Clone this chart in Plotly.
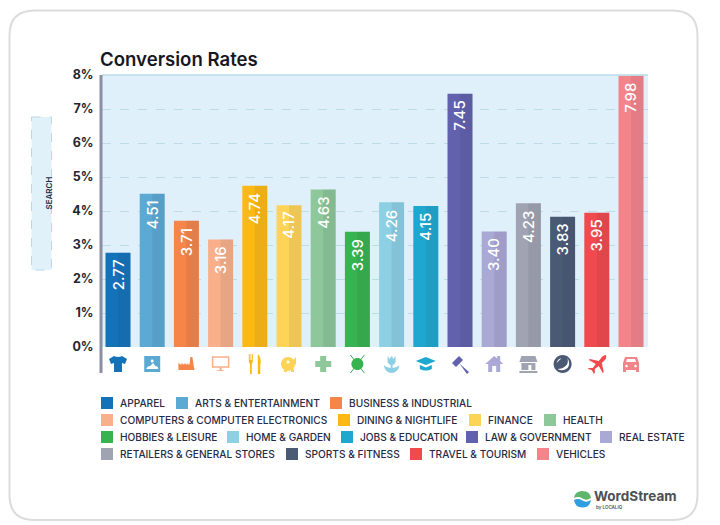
import plotly.graph_objects as go

W, H = 720, 525

# values
categories = ['APPAREL', 'ARTS & ENTERTAINMENT', 'BUSINESS & INDUSTRIAL',
              'COMPUTERS & COMPUTER ELECTRONICS', 'DINING & NIGHTLIFE', 'FINANCE',
              'HEALTH', 'HOBBIES & LEISURE', 'HOME & GARDEN', 'JOBS & EDUCATION',
              'LAW & GOVERNMENT', 'REAL ESTATE', 'RETAILERS & GENERAL STORES',
              'SPORTS & FITNESS', 'TRAVEL & TOURISM', 'VEHICLES']
rates = [2.77, 4.51, 3.71, 3.16, 4.74, 4.17, 4.63, 3.39,
         4.26, 4.15, 7.45, 3.40, 4.23, 3.83, 3.95, 7.98]
tick_vals = [0, 1, 2, 3, 4, 5, 6, 7, 8]
tick_text = ['0%', '1%', '2%', '3%', '4%', '5%', '6%', '7%', '8%']

colors = ['#1472b9', '#5caad4', '#f58549', '#f9b08a', '#fdb913', '#fed457', '#8dc79a', '#37b34f',
          '#8dd0e4', '#1fa8cf', '#6161ad', '#aaa8d4', '#a0a3b1', '#4a5a75', '#f04a4f', '#f3848a']

# legend rows: swatch left edge in px, row centre in px
legend_x = [101, 176, 330, 101, 338, 469, 544, 101, 227, 341, 466, 600, 101, 286, 410, 537]
legend_y = [403, 403, 403, 420, 420, 420, 420, 437, 437, 437, 437, 437, 454, 454, 454, 454]

NAVY = '#262a45'
FONT = 'Inter'


def px(x):
    return x / W


def py(y):
    return 1 - y / H


def circle(cx, cy, r):
    k = r * 0.5523
    return (f'M{cx - r} {cy} C{cx - r} {cy + k} {cx - k} {cy + r} {cx} {cy + r} '
            f'C{cx + k} {cy + r} {cx + r} {cy + k} {cx + r} {cy} '
            f'C{cx + r} {cy - k} {cx + k} {cy - r} {cx} {cy - r} '
            f'C{cx - k} {cy - r} {cx - r} {cy - k} {cx - r} {cy} Z')


# icon outlines, px around the icon centre, y up. 'W' pieces are white, 'O' are outlines
icons = [
    [('F', 'M-9 5 L-4 8 Q0 6 4 8 L9 5 L7 0 L4 1 L4 -8 L-4 -8 L-4 1 L-7 0 Z')],
    [('F', 'M-8 -8 H8 V8 H-8 Z'), ('W', 'M-6 -5 Q-5 -2 -2 -2 L1 1 L3 -2 Q6 -2 6 -5 Z'), ('W', circle(0, 3, 1.5))],
    [('F', 'M-8 -6 V1 L-5 -1 V1 L-2 -1 V1 L1 -1 V1 L3 -1 L4 7 H6 L8 -6 Z')],
    [('O', 'M-8 -3 V7 H8 V-3 Z'), ('F', 'M-1 -3 H1 V-6 H3 V-7 H-3 V-6 H-1 Z')],
    [('F', 'M-6 10 V3 Q-6 1 -4.8 0 V-10 H-3 V0 Q-2 1 -2 3 V10 H-2.8 V4 H-3.5 V10 H-4.3 V4 H-5 V10 Z'),
     ('F', 'M3 10 Q6 8 6 0 H5.5 V-10 H3 Z')],
    [('F', circle(-1, 0, 7)), ('F', 'M3 3 L7 7 L7 -1 Z M-5 -5 H-2 V-8 H-5 Z M2 -5 H5 V-8 H2 Z'), ('W', circle(-1, 2, 1.5))],
    [('F', 'M-3 8 H3 V3 H8 V-3 H3 V-8 H-3 V-3 H-8 V3 H-3 Z')],
    [('F', circle(0, 0, 6)), ('L', 'M-7 9 L7 -9 M7 9 L-7 -9')],
    [('F', 'M-4 8 L-2 5 L0 8 L2 5 L4 8 V2 Q3 -1 1 -1 V-4 Q5 -4 8 -1 Q6 -9 0 -9 Q-6 -9 -8 -1 Q-5 -4 -1 -4 V-1 Q-3 -1 -4 2 Z')],
    [('F', 'M-10 3 L0 7 L10 3 L0 -1 Z'), ('F', 'M-6 -1 V-5 Q0 -8 6 -5 V-1 L0 -3.5 Z')],
    [('F', 'M-8 1 L-1 8 L3 4 L-4 -3 Z'), ('F', 'M-1 1 L1 -1 L9 -8 L7 -10 Z')],
    [('F', 'M-9 0 L0 8 L3 5.5 V8 H6 V3 L9 0 H6 V-8 H2 V-2 H-2 V-8 H-6 V0 Z')],
    [('F', 'M-7 8 H7 L9 2 H-9 Z'), ('F', 'M-7 1 H7 V-6 H3 V-1 H0 V-6 H-7 Z'), ('F', 'M-9 -7 H9 V-9 H-9 Z')],
    [('F', circle(0, 0, 9)), ('W', 'M-5 -5 Q0 -8 5 -4 Q8 0 5 6 Q6 0 3 -2 Q0 -5 -5 -5 Z'), ('W', 'M-6 1 Q-5 5 -1 6 Q-4 3 -6 1 Z')],
    [('F', 'M9 9 Q7 9 5 7 L2 3 L-7 5 L-8 4 L-1 0 L-4 -4 L-8 -4 L-9 -5 L-5 -6 L-3 -10 L-2 -9 L-2 -5 L2 -2 L6 -9 L7 -8 L5 1 L9 5 Q10 8 9 9 Z')],
    [('F', 'M-8 -8 H-5 V-6 H5 V-8 H8 V1 L6 7 H-6 L-8 1 Z'), ('W', 'M-5 2 L-4 5 H4 L5 2 Z'), ('W', circle(-4.5, -2, 1.3)), ('W', circle(4.5, -2, 1.3))],
]

bar_pos = list(range(len(categories)))
half_shade = [0.365] * len(categories)

fig = go.Figure()
fig.add_trace(go.Bar(x=bar_pos, y=rates, width=0.731, marker=dict(color=colors, line=dict(width=0)),
                     hoverinfo='x+y', showlegend=False))
# darker right half of every bar
fig.add_trace(go.Bar(x=bar_pos, y=rates, width=half_shade, offset=0,
                     marker=dict(color='rgba(40,40,70,0.08)', line=dict(width=0)),
                     hoverinfo='skip', showlegend=False))

shapes = []
# card
x0, y0, x1, y1, r = px(9.5), py(10.5), px(697.5), py(520), 25
rx, ry = r / W, r / H
shapes.append(dict(type='path', xref='paper', yref='paper',
                   path=f'M{x0 + rx} {y0} L{x1 - rx} {y0} Q{x1} {y0} {x1} {y0 - ry} L{x1} {y1 + ry} '
                        f'Q{x1} {y1} {x1 - rx} {y1} L{x0 + rx} {y1} Q{x0} {y1} {x0} {y1 + ry} '
                        f'L{x0} {y0 - ry} Q{x0} {y0} {x0 + rx} {y0} Z',
                   line=dict(color='#dcdcdc', width=2), fillcolor='rgba(0,0,0,0)'))
# SEARCH box
shapes.append(dict(type='rect', xref='paper', yref='paper', x0=px(31.5), x1=px(51.5), y0=py(117), y1=py(270),
                   fillcolor='#e1f1fa', line=dict(color='#b7dce8', width=1, dash='dash'), layer='below'))
# top rule and thick left axis
shapes.append(dict(type='line', xref='paper', yref='paper', x0=px(102), x1=px(648), y0=py(75), y1=py(75),
                   line=dict(color='#b7dce8', width=1.5)))
shapes.append(dict(type='line', xref='paper', yref='paper', x0=px(101), x1=px(101), y0=py(75), y1=py(373),
                   line=dict(color='#8b8fa3', width=3)))

# icons under the bars
for i, pieces in enumerate(icons):
    for kind, path in pieces:
        s = dict(type='path', xref='x', yref='paper', xsizemode='pixel', ysizemode='pixel',
                 xanchor=i, yanchor=py(364), path=path, line=dict(width=0))
        if kind == 'F':
            s.update(fillcolor=colors[i])
        elif kind == 'W':
            s.update(fillcolor='white')
        elif kind == 'L':
            s.update(fillcolor='rgba(0,0,0,0)', line=dict(color=colors[i], width=1))
        else:
            s.update(fillcolor='rgba(0,0,0,0)', line=dict(color=colors[i], width=1.5))
        shapes.append(s)

annotations = [
    dict(text='Conversion Rates', x=px(98), y=py(58.5), xref='paper', yref='paper', xanchor='left',
         yanchor='middle', showarrow=False, font=dict(family=FONT, size=18.6, color='#16181f', weight=600)),
    dict(text='SEARCH', x=px(41.5), y=py(193), xref='paper', yref='paper', textangle=-90, showarrow=False,
         font=dict(family=FONT, size=8, color=NAVY, weight=600)),
]

# value labels inside the bars
for i, v in enumerate(rates):
    annotations.append(dict(text=f'{v:.2f}', x=i, y=v, xref='x', yref='y', yanchor='top', yshift=-5,
                            textangle=-90, showarrow=False,
                            font=dict(family=FONT, size=15, color='white', weight=500)))

# legend
for name, color, lx, ly in zip(categories, colors, legend_x, legend_y):
    shapes.append(dict(type='rect', xref='paper', yref='paper', x0=px(lx), x1=px(lx + 12), y0=py(ly - 6), y1=py(ly + 6),
                       fillcolor=color, line=dict(width=0)))
    annotations.append(dict(text=name, x=px(lx + 17), y=py(ly), xref='paper', yref='paper', xanchor='left',
                            yanchor='middle', showarrow=False, font=dict(family=FONT, size=10.15, color=NAVY, weight=500)))

# logo
shapes.append(dict(type='path', xref='paper', yref='paper', fillcolor='#5fb56c', line=dict(width=0),
                   path=f'M{px(574)} {py(498)} Q{px(575)} {py(491)} {px(582.5)} {py(491)} Q{px(590)} {py(491)} {px(591)} {py(498)} '
                        f'Q{px(586)} {py(501)} {px(582.5)} {py(498.5)} Q{px(578)} {py(496)} {px(574)} {py(498)} Z'))
shapes.append(dict(type='path', xref='paper', yref='paper', fillcolor='#2f9fe0', line=dict(width=0),
                   path=f'M{px(574)} {py(500)} Q{px(578)} {py(498)} {px(582.5)} {py(500.5)} Q{px(586)} {py(503)} {px(591)} {py(500)} '
                        f'Q{px(590)} {py(507.5)} {px(582.5)} {py(507.5)} Q{px(575)} {py(507.5)} {px(574)} {py(500)} Z'))
annotations.append(dict(text='WordStream', x=px(591.5), y=py(496), xref='paper', yref='paper', xanchor='left', yanchor='middle',
                        showarrow=False, font=dict(family=FONT, size=13.5, color='#4a5058', weight=700)))
annotations.append(dict(text='by LOCALIQ', x=px(594), y=py(507.5), xref='paper', yref='paper', xanchor='left', yanchor='middle',
                        showarrow=False, font=dict(family=FONT, size=4.5, color='#4a5058', weight=600)))

fig.update_layout(
    width=W, height=H, margin=dict(l=0, r=0, t=0, b=0, pad=0, autoexpand=False),
    paper_bgcolor='white', plot_bgcolor='#dff0fa', barmode='overlay',
    showlegend=False, shapes=shapes, annotations=annotations,
    xaxis=dict(domain=[px(102), px(648)], range=[-0.468, 15.497], showticklabels=False, showgrid=False,
               zeroline=False, showline=False, ticks=''),
    yaxis=dict(domain=[py(347), py(75)], range=[0, 8], tickvals=tick_vals, ticktext=tick_text,
               showgrid=True, gridcolor='#bcdce8', griddash='dash', gridwidth=1, zeroline=False,
               showline=False, ticks='outside', ticklen=5, tickcolor='rgba(0,0,0,0)',
               tickfont=dict(family=FONT, size=12.5, color='#23252f', weight=700)),
)

# the page's default body margin would shift the whole figure
fig.write_html('out.html', config={'displayModeBar': False},
               post_script="document.body.style.margin='0';document.documentElement.style.overflow='hidden';")
